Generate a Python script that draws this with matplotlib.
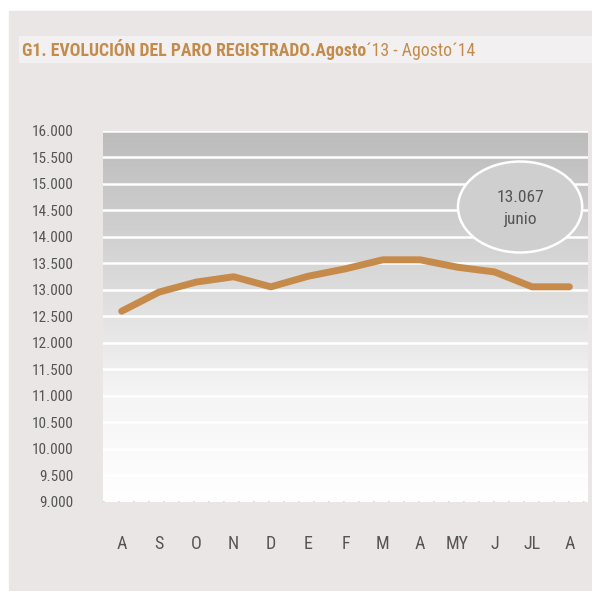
import matplotlib
matplotlib.use('Agg')
import matplotlib.pyplot as plt
import numpy as np
from matplotlib.patches import Rectangle, Ellipse
from matplotlib.colors import LinearSegmentedColormap

plt.rcParams['font.family'] = ['Roboto Condensed', 'DejaVu Sans']

# data
months = ['A', 'S', 'O', 'N', 'D', 'E', 'F', 'M', 'A', 'MY', 'J', 'JL', 'A']
paro = [12600, 12960, 13150, 13250, 13060, 13260, 13400, 13570, 13570, 13430, 13340, 13060, 13060]
y_ticks = list(range(9000, 16001, 500))
y_labels = ['{:,}'.format(v).replace(',', '.') for v in y_ticks]
note_value = '13.067'
note_month = 'junio'

W, H = 592, 591
fig = plt.figure(figsize=(W / 100, H / 100), dpi=100)
fig.patch.set_facecolor('white')

# panel background and title strip (below the axes)
fig.patches.append(Rectangle((9 / W, 1 - 590 / H), (W - 9) / W, 579 / H,
                             transform=fig.transFigure, color='#ebe6e6', zorder=-5))
fig.patches.append(Rectangle((19 / W, 1 - 62 / H), (W - 19) / W, 26 / H,
                             transform=fig.transFigure, color='#f2f0f0', zorder=-4))

title_color = '#c48c4c'
t1 = fig.text(22 / W, 1 - 56 / H, 'G1. EVOLUCIÓN DEL PARO REGISTRADO.Agosto',
              color=title_color, fontsize=12.8, fontweight='bold', va='baseline')
fig.canvas.draw()
bb = t1.get_window_extent()
fig.text(bb.x1 / W, 1 - 56 / H, '´13 - Agosto´14', color=title_color,
         fontsize=12.8, va='baseline')

ax = fig.add_axes([103 / W, 1 - 502 / H, 485 / W, 371 / H])
x = np.arange(len(months))
ax.set_xlim(-0.5, len(months) - 0.5)
ax.set_ylim(9000, 16000)

# grey-to-white gradient behind the plot
grad = LinearSegmentedColormap.from_list('g', [(0, '#ffffff'), (0.3, '#f4f4f4'),
                                               (0.65, '#d6d6d6'), (1, '#bcbcbc')])
ax.imshow(np.linspace(0, 1, 256).reshape(-1, 1), cmap=grad, aspect='auto',
          extent=(-0.5, len(months) - 0.5, 9000, 16000), origin='lower', zorder=0)

for v in y_ticks[1:]:
    ax.axhline(v, color='white', lw=1.8, zorder=1)
ax.axhline(9000, color='#cfcfcf', lw=1.2, ls=(0, (1, 8)), zorder=1)

ax.plot(x, paro, color='#c68b4b', lw=5, solid_capstyle='round',
        solid_joinstyle='round', zorder=3)

ax.add_patch(Ellipse((10.68, 14566), 3.33, 1717, facecolor='#cfcfcf',
                     edgecolor='white', lw=1.8, zorder=4))
ax.text(10.68, 14750, note_value, ha='center', va='center', color='#555555',
        fontsize=12.5, zorder=5)
ax.text(10.68, 14330, note_month, ha='center', va='center', color='#555555',
        fontsize=12.5, zorder=5)

for s in ax.spines.values():
    s.set_visible(False)
ax.set_yticks(y_ticks)
ax.set_yticklabels(y_labels)
ax.set_xticks(x)
ax.set_xticklabels(months)
ax.tick_params(axis='y', length=0, pad=21.5, labelsize=11, labelcolor='#555555')
ax.tick_params(axis='x', length=0, pad=24, labelsize=13, labelcolor='#555555')

fig.savefig('out.png', dpi=100, facecolor='white')
